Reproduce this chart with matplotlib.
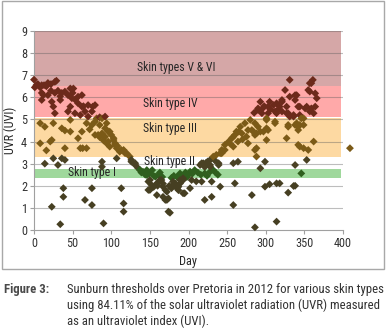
import matplotlib.pyplot as plt
from matplotlib.patches import Rectangle

plt.rcParams['font.family'] = ['Roboto Condensed', 'Archivo Narrow', 'DejaVu Sans']

# skin type bands (UVI limits)
band_names = ['Skin types V & VI', 'Skin type IV', 'Skin type III', 'Skin type II', 'Skin type I']
band_low = [6.5, 5.1, 3.3, 2.75, 2.35]
band_high = [9.0, 6.5, 5.05, 3.3, 2.75]

# daily UVI over Pretoria 2012
day = [
    0, 1, 3, 5, 8, 10, 13, 16, 18, 22, 27, 29,
    10, 12, 18, 22, 27, 31, 34, 10, 23, 34, 25, 27,
    40, 44, 47, 50, 49, 53, 57, 62, 57, 62, 47, 44, 53, 60, 64, 70, 75, 76, 66, 70, 79, 81, 85, 88, 92, 51, 36,
    8, 14, 25, 36, 40, 47, 47, 57, 60, 63, 68, 8, 16, 21, 23, 40, 68, 75, 79, 85, 83, 88, 92, 94, 79, 85, 94,
    96, 98, 100, 103, 105, 107, 111, 92, 96, 98, 103, 105, 108, 113, 116, 118, 120, 124, 72, 62, 90,
    14, 25, 31, 36, 40, 88, 88, 107, 126, 126, 131, 131, 135,
    137, 139, 141, 144, 146, 146, 149, 153, 155, 157, 161, 163, 166, 185, 189, 193, 196, 200, 202, 205,
    208, 212, 216, 221, 224, 228, 232, 235, 238, 181, 178, 198, 346,
    148, 150, 152, 150, 148, 159, 163, 165, 167, 167, 170, 172, 167, 170, 172, 174, 174, 176, 159, 178,
    180, 180, 185, 187, 187, 189, 189, 193, 193, 193, 195, 202, 204, 210, 217, 221, 230, 230, 241, 260,
    258, 282, 286, 299, 305, 314, 318, 314, 329, 336, 338, 155, 160, 175, 183,
    23, 34, 38, 38, 66, 75, 75, 90, 113, 116, 116,
    215, 217, 219, 223, 228, 228, 228, 239, 239, 258, 264, 293, 299, 338, 353, 225, 234, 221,
    232, 236, 241, 243, 247, 252, 256, 260, 265, 247, 243, 258, 264, 258, 262, 269, 275, 267, 273, 280,
    282, 286, 288, 286, 277, 284, 290, 293, 297, 303, 301, 301, 312, 312, 329, 329, 338, 340, 342, 344,
    349, 342, 288, 286, 288, 277, 301, 327, 342, 344, 349, 355, 362, 409, 270, 254,
    331, 361, 357, 359, 325, 357, 355, 364, 366, 338, 340, 331, 338, 321, 293, 305, 314, 321, 290, 290,
    296, 303, 310, 312, 318, 321, 327, 327, 329, 336, 342, 344, 351, 353, 357, 359, 362, 364, 344, 295,
    303, 314, 301, 331, 336, 346, 349, 298, 306, 316, 285,
]
uvi = [
    6.8, 6.45, 6.55, 6.6, 6.45, 6.55, 6.55, 6.5, 6.65, 6.6, 6.7, 6.75,
    6.2, 6.1, 6.1, 6.3, 6.2, 6.3, 6.05, 5.88, 5.8, 5.88, 5.58, 5.28,
    6.26, 6.1, 6.4, 6.2, 5.96, 5.9, 6.03, 6.1, 5.73, 5.58, 5.58, 5.36, 5.28, 5.2, 5.6, 5.65, 5.36, 5.58, 5.36, 5.13, 5.65, 5.05, 5.1, 5.05, 5.13, 6.4, 6.2,
    4.83, 4.67, 4.83, 4.6, 4.5, 4.45, 4.98, 4.15, 3.7, 3.7, 3.7, 3.92, 3.6, 4.0, 4.07, 3.7, 4.83, 4.75, 4.9, 4.75, 4.3, 4.37, 4.6, 4.83, 4.3, 4.2, 3.92,
    4.45, 4.45, 4.3, 4.07, 3.92, 3.7, 3.54, 4.22, 4.0, 3.77, 4.15, 3.85, 3.8, 3.62, 3.62, 3.47, 3.47, 3.32, 4.55, 4.45, 4.05,
    3.0, 3.24, 2.94, 3.24, 3.17, 3.09, 2.86, 3.24, 3.17, 3.09, 3.02, 2.94, 2.79,
    2.72, 2.6, 2.64, 2.5, 2.71, 2.49, 2.55, 2.71, 2.45, 2.41, 2.49, 2.6, 2.4, 2.4, 2.56, 2.45, 2.6, 2.5, 2.64, 2.55,
    2.71, 2.6, 2.5, 2.56, 2.45, 2.64, 2.71, 2.6, 2.5, 2.45, 2.36, 2.4, 2.56,
    2.19, 2.26, 2.04, 1.81, 1.81, 2.11, 2.26, 2.26, 1.96, 2.1, 1.81, 1.73, 1.5, 1.36, 1.36, 1.43, 0.83, 0.78, 1.58, 1.89,
    2.04, 2.19, 1.89, 1.8, 1.96, 2.1, 2.26, 2.26, 2.34, 1.66, 1.66, 1.89, 2.26, 2.2, 2.19, 1.36, 2.19, 1.5, 1.96, 2.11,
    1.13, 1.58, 0.12, 1.96, 2.07, 2.11, 2.11, 0.38, 1.69, 1.99, 2.0, 1.95, 2.0, 2.0, 2.1,
    1.05, 0.26, 1.89, 1.5, 1.36, 1.13, 1.89, 0.3, 1.89, 1.2, 0.83,
    2.94, 3.02, 3.02, 3.05, 3.17, 2.94, 2.86, 3.02, 2.94, 3.02, 3.09, 2.79, 3.09, 2.94, 3.17, 3.1, 3.15, 2.85,
    3.32, 3.4, 3.47, 3.62, 3.85, 4.0, 4.15, 4.3, 4.45, 3.62, 3.47, 3.77, 4.0, 4.22, 4.45, 4.37, 4.22, 4.67, 4.83, 4.98,
    4.52, 4.3, 4.37, 4.83, 4.52, 4.45, 4.67, 4.45, 4.45, 4.52, 4.6, 4.98, 4.83, 4.9, 4.67, 4.75, 4.75, 4.83, 4.67, 4.75,
    4.75, 4.52, 3.32, 3.62, 3.7, 3.92, 4.07, 4.15, 3.85, 3.77, 3.7, 3.62, 4.0, 3.7, 4.1, 3.9,
    6.79, 6.79, 6.64, 6.64, 6.33, 6.26, 6.33, 6.18, 5.96, 6.1, 6.1, 6.03, 5.88, 5.88, 5.8, 5.8, 5.73, 5.8, 5.43, 5.5,
    5.5, 5.58, 5.65, 5.36, 5.58, 5.36, 5.58, 5.28, 5.28, 5.2, 5.58, 5.58, 5.5, 5.58, 5.36, 5.5, 5.28, 5.58, 5.2, 5.28,
    5.28, 5.28, 5.05, 5.13, 5.13, 5.05, 5.05, 5.6, 5.45, 5.45, 5.3,
]

band_fill = ['#d5a7a7', '#ffa9a9', '#fdd9a2', 'none', '#9fd89c']
marker_cols = ['#6c2a1b', '#6c2a1b', '#7b5a17', '#4a4224', '#2f5f1e']
low_col = '#463f22'


def point_colour(v):
    for lo, c in zip(band_low, marker_cols):
        if v >= lo - 0.001:
            return c
    return low_col


fig = plt.figure(figsize=(3.86, 3.33), dpi=100)
ax = fig.add_axes([34 / 386, 1 - 230 / 333, 309 / 386, 199 / 333])

for lo, hi, fc in zip(band_low, band_high, band_fill):
    if fc != 'none':
        ax.axhspan(lo, hi, xmin=0, xmax=398 / 400, color=fc, lw=0, zorder=1)

for y in range(1, 10):
    ax.axhline(y, color='#5a5a5a', alpha=0.4, lw=0.8, zorder=2)

label_pos = [(184, 7.37), (176, 5.7), (176, 4.6), (176, 3.08), (75, 2.58)]
for name, (x, y) in zip(band_names, label_pos):
    ax.text(x, y, name, ha='center', va='center', fontsize=8.5, color='#262626', zorder=3)

ax.scatter(day, uvi, c=[point_colour(v) for v in uvi], marker='D', s=16,
           linewidths=0, zorder=4, clip_on=False)

ax.set_xlim(0, 400)
ax.set_ylim(0, 9)
ax.set_xticks(range(0, 401, 50))
ax.set_yticks(range(0, 10))
ax.tick_params(labelsize=8.8, colors='#333333', length=3, width=0.8, pad=2)
ax.tick_params(axis='both', color='#a0a0a0')
for s in ['top', 'right']:
    ax.spines[s].set_visible(False)
for s in ['left', 'bottom']:
    ax.spines[s].set_color('#a0a0a0')
    ax.spines[s].set_linewidth(0.8)
ax.set_xlabel('Day', fontsize=8.8, color='#262626', labelpad=4)
ax.set_ylabel('UVR (UVI)', fontsize=8.8, color='#262626', labelpad=3)

fig.patches.append(Rectangle((2 / 386, 1 - 269 / 333), 382 / 386, 268 / 333,
                             transform=fig.transFigure, fill=False,
                             edgecolor='#a8a8a8', lw=1))

fig.text(4 / 386, 1 - 290 / 333, 'Figure 3:', fontsize=9.2, fontweight='bold',
         color='#4a4a4a', va='center')
caption = ['Sunburn thresholds over Pretoria in 2012 for various skin types',
           'using 84.11% of the solar ultraviolet radiation (UVR) measured',
           'as an ultraviolet index (UVI).']
texts = []
for i, line in enumerate(caption):
    texts.append(fig.text(67 / 386, 1 - (290 + 15.5 * i) / 333, line, fontsize=9,
                          color='#333333', va='center'))

# fit the first caption line to the box width
renderer = fig.canvas.get_renderer()
w = texts[0].get_window_extent(renderer=renderer).width
fs = 9 * 315 / w
for t in texts:
    t.set_fontsize(fs)

fig.savefig('out.png', dpi=100)
